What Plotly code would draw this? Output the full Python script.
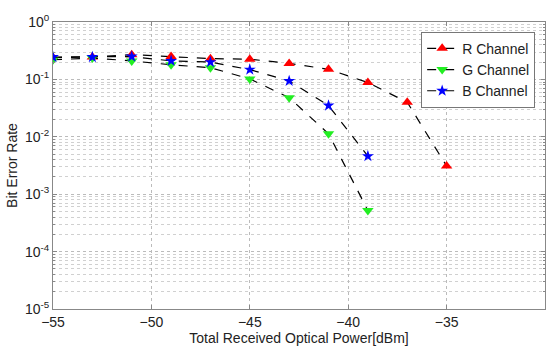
import plotly.graph_objects as go

power = [-55, -53, -51, -49, -47, -45, -43, -41, -39, -37, -35]
ber_r = [0.24, 0.245, 0.27, 0.25, 0.23, 0.225, 0.19, 0.15, 0.088, 0.040, 0.0031]
power_g = [-55, -53, -51, -49, -47, -45, -43, -41, -39]
ber_g = [0.22, 0.235, 0.21, 0.18, 0.16, 0.102, 0.048, 0.0113, 0.00052]
power_b = [-55, -53, -51, -49, -47, -45, -43, -41, -39]
ber_b = [0.245, 0.245, 0.25, 0.21, 0.20, 0.148, 0.094, 0.035, 0.0046]

y_tickvals = [1e-5, 1e-4, 1e-3, 1e-2, 1e-1, 1]
y_ticktext = ["10<sup>-5</sup>", "10<sup>-4</sup>", "10<sup>-3</sup>",
              "10<sup>-2</sup>", "10<sup>-1</sup>", "10<sup>0</sup>"]
x_tickvals = [-55, -50, -45, -40, -35, -30]
x_title = "Total Received Optical Power[dBm]"

minor_vals = [m * 10 ** e for e in range(-5, 0) for m in range(2, 10)]

fig = go.Figure()
series = [
    ("R Channel", power, ber_r, "#ff0000", "triangle-up", 10),
    ("G Channel", power_g, ber_g, "#22ee22", "triangle-down", 10),
    ("B Channel", power_b, ber_b, "#0000ff", "star", 9),
]
for name, xs, ys, col, sym, sz in series:
    fig.add_trace(go.Scatter(
        x=xs, y=ys, name=name, mode="lines+markers",
        line=dict(color="black", dash="dash", width=1.2),
        marker=dict(symbol=sym, color=col, size=sz, line=dict(width=0)),
    ))

font = "Liberation Sans, Arial, sans-serif"
fig.update_layout(
    width=555, height=349,
    margin=dict(l=53, r=9, t=22, b=36),
    paper_bgcolor="white", plot_bgcolor="white",
    font=dict(family=font, size=14, color="#222"),
    showlegend=True,
    legend=dict(x=0.98, y=0.966, xanchor="right", yanchor="top",
                bgcolor="white", bordercolor="#777", borderwidth=1,
                font=dict(size=14), itemwidth=30,
                tracegroupgap=0),
    xaxis=dict(range=[-55, -30], tickvals=x_tickvals,
               tickfont=dict(size=14),
               showgrid=True, gridcolor="#bbb", griddash="dot", gridwidth=1,
               showline=True, linecolor="#888", linewidth=1, mirror="ticks",
               ticks="inside", ticklen=4, tickcolor="#888",
               zeroline=False,
               title=dict(text=x_title, standoff=0, font=dict(size=14))),
    yaxis=dict(type="log", range=[-5, 0], tickvals=y_tickvals, ticktext=y_ticktext,
               tickfont=dict(size=14),
               showgrid=True, gridcolor="#bbb", griddash="dot", gridwidth=1,
               showline=True, linecolor="#888", linewidth=1, mirror="ticks",
               ticks="inside", ticklen=4, tickcolor="#888",
               minor=dict(tickvals=minor_vals, showgrid=True, gridcolor="#d0d0d0",
                          griddash="dot", ticks="inside", ticklen=2, tickcolor="#888"),
               title=dict(text="Bit Error Rate", standoff=4, font=dict(size=14))),
)

fig.write_html("out.html", config={"displayModeBar": False},
               post_script="document.body.style.margin='0px';")
